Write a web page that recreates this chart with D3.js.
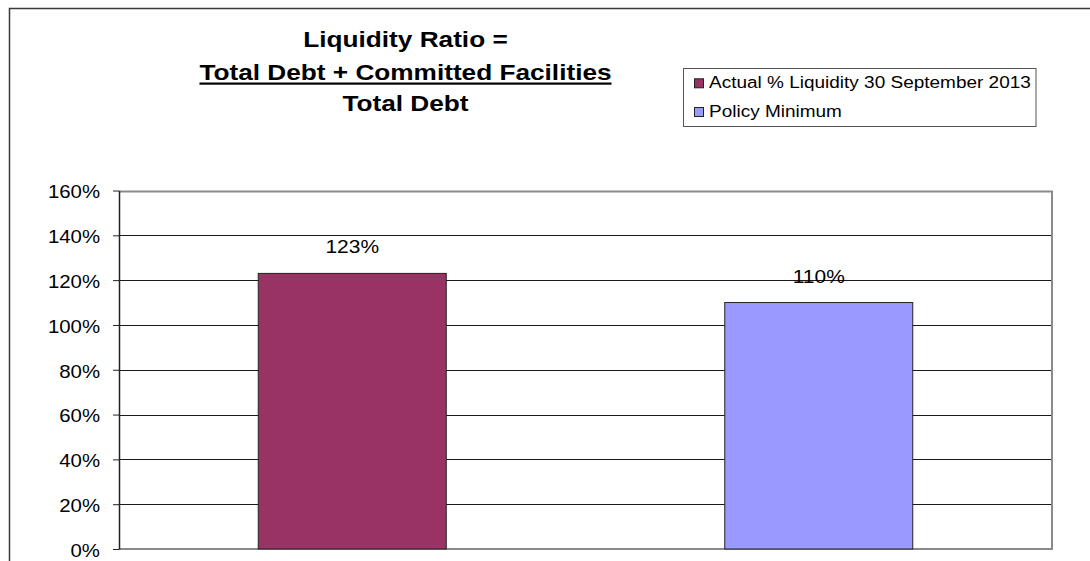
<!DOCTYPE html>
<html>
<head>
<meta charset="utf-8">
<script src="https://cdn.jsdelivr.net/npm/d3@7"></script>
<style>
  html, body { margin: 0; padding: 0; background: #fff; }
  svg { display: block; font-family: "Liberation Sans", Arial, sans-serif; }
</style>
</head>
<body>
<svg id="chart" width="1090" height="561"></svg>
<script>
// Series and labels
const categories = ["Actual % Liquidity 30 September 2013", "Policy Minimum"];
const values = [1.23, 1.10];
const colors = ["#993366", "#9999ff"];
const yTicks = [0, 0.2, 0.4, 0.6, 0.8, 1.0, 1.2, 1.4, 1.6];
const titleLines = ["Liquidity Ratio =", "Total Debt + Committed Facilities", "Total Debt"];

const W = 1090, H = 561;
const SX = 1.165; // horizontal text stretch used throughout
const plot = { left: 119, right: 1052, top: 190.5, bottom: 549 };

const svg = d3.select("#chart");
svg.append("rect").attr("width", W).attr("height", H).attr("fill", "#fff");

// Outer frame (top and left edges)
svg.append("path")
  .attr("d", `M9.5,${H} V8.5 H${W}`)
  .attr("fill", "none").attr("stroke", "#3a3a3a").attr("stroke-width", 1.5);

// Helper: text placed at (x,y) and stretched horizontally
function stretchedText(parent, x, y, str, opts) {
  const g = parent.append("g").attr("transform", `translate(${x},${y}) scale(${SX},1)`);
  const t = g.append("text")
    .attr("text-anchor", opts.anchor || "start")
    .attr("font-size", opts.size)
    .attr("font-weight", opts.weight || "normal")
    .attr("fill", "#000")
    .text(str);
  return g;
}

// Scales
const x = d3.scaleBand()
  .domain(categories)
  .range([plot.left, plot.right])
  .paddingInner(0.597)
  .paddingOuter(0.2985);

const y = d3.scaleLinear()
  .domain([0, 1.6])
  .range([plot.bottom, plot.top]);

// Gridlines
svg.append("g")
  .selectAll("line")
  .data(yTicks.filter(d => d > 0 && d < 1.6))
  .join("line")
  .attr("x1", plot.left).attr("x2", plot.right)
  .attr("y1", d => Math.round(y(d)) + 0.5).attr("y2", d => Math.round(y(d)) + 0.5)
  .attr("stroke", "#1a1a1a").attr("stroke-width", 1);

// Plot area border (top, right, bottom)
svg.append("path")
  .attr("d", `M${plot.left},${Math.round(plot.top) + 0.5} H${plot.right} V${plot.bottom} H${plot.left}`)
  .attr("fill", "none").attr("stroke", "#8a8a8a").attr("stroke-width", 2);

// Bars
svg.append("g")
  .selectAll("rect")
  .data(values)
  .join("rect")
  .attr("x", (d, i) => x(categories[i]))
  .attr("width", x.bandwidth())
  .attr("y", d => y(d))
  .attr("height", d => y(0) - y(d))
  .attr("fill", (d, i) => colors[i])
  .attr("stroke", "#222").attr("stroke-width", 1);

// Value labels
values.forEach((v, i) => {
  stretchedText(svg, x(categories[i]) + x.bandwidth() / 2, y(v) - 20,
    d3.format(".0%")(v), { anchor: "middle", size: 18 });
});

// Y axis
const yAxis = d3.axisLeft(y)
  .tickValues(yTicks)
  .tickFormat(d3.format(".0%"))
  .tickSize(6)
  .tickSizeOuter(0)
  .tickPadding(13);

const axisG = svg.append("g")
  .attr("transform", `translate(${plot.left},0)`)
  .call(yAxis);
axisG.select(".domain").attr("stroke", "#222").attr("stroke-width", 1.5);
axisG.selectAll(".tick line").attr("stroke", "#222");
axisG.selectAll(".tick text")
  .attr("font-size", 17.5)
  .attr("font-family", "Liberation Sans, Arial, sans-serif")
  .attr("fill", "#000")
  .attr("dy", "0.42em")
  .attr("x", -19 / SX)
  .attr("transform", `scale(${SX},1)`);

// Title
const titleX = 405.5;
const titleY = [46.5, 79.5, 111];
titleLines.forEach((line, i) => {
  const g = stretchedText(svg, titleX, titleY[i], line, { anchor: "middle", size: 22.5, weight: "bold" });
  if (i === 1) {
    const bb = g.node().getBBox();
    g.append("rect")
      .attr("x", bb.x).attr("width", bb.width)
      .attr("y", 3).attr("height", 2.2)
      .attr("fill", "#000");
  }
});

// Legend
const legend = svg.append("g");
legend.append("rect")
  .attr("x", 683.5).attr("y", 68.5)
  .attr("width", 352.5).attr("height", 58)
  .attr("fill", "#fff").attr("stroke", "#555").attr("stroke-width", 1);
categories.forEach((c, i) => {
  const rowY = 88.3 + i * 28.7;
  legend.append("rect")
    .attr("x", 694.5).attr("y", rowY - 9.5)
    .attr("width", 9).attr("height", 9)
    .attr("fill", colors[i]).attr("stroke", "#222").attr("stroke-width", 1);
  stretchedText(legend, 709, rowY, c, { size: 16.3 });
});
</script>
</body>
</html>
